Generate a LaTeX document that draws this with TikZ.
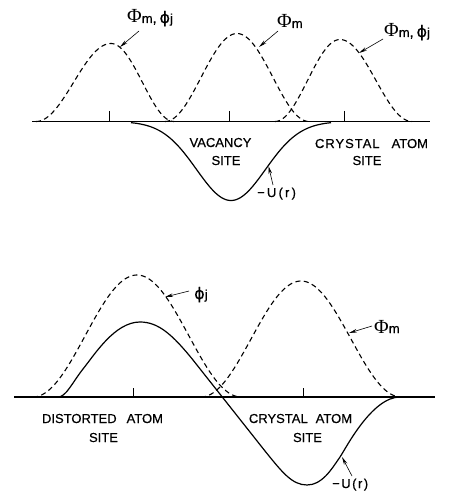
\documentclass[tikz,border=0pt]{standalone}
\usepackage{fontspec}
\setmainfont{Liberation Sans}
\newfontfamily\capfont[FakeBold=0.5]{Liberation Sans}
\newfontfamily\grserif{Liberation Serif}
\newfontfamily\grsans[FakeBold=0.4]{DejaVu Sans}
\usetikzlibrary{arrows.meta}
\newcommand\bigPhi{{\grserif\fontsize{20}{20}\selectfont Φ}}
\newcommand\subm{{\capfont\fontsize{13}{13}\selectfont m}}
\newcommand\smphi{{\grsans\fontsize{16}{16}\selectfont ϕ}}
\newcommand\subj{{\capfont\fontsize{13}{13}\selectfont j}}
\newcommand\gcomma{{\capfont\fontsize{14}{14}\selectfont ,}}
\newcommand\minusU[1]{{\capfont\fontsize{13}{13}\selectfont −\kern#1U\kern#1(\kern#1r\kern#1)}}
\newcommand\wide[1]{{\addfontfeature{LetterSpace=7.5}#1}}
\tikzset{
  axisline/.style={line width=1.3pt},
  tickline/.style={line width=0.7pt},
  wave/.style={line width=1.1pt, dash pattern=on 5pt off 3.5pt},
  pot/.style={line width=1.2pt},
  leader/.style={line width=0.6pt, -{Stealth[length=8pt,width=3.5pt]}},
  caplabel/.style={inner sep=0pt, anchor=base, font=\capfont\fontsize{13}{15}\selectfont},
  glabel/.style={inner sep=0pt, anchor=base west},
}
\begin{document}
\begin{tikzpicture}[x=1pt,y=-1pt]
\useasboundingbox (0,0) rectangle (448,500);
% ---------- top panel ----------
\draw[axisline] (32,121.5) -- (430,121.5);
\foreach \t in {109,229,344} \draw[tickline] (\t,111) -- (\t,121.5);
% dashed wave functions
\draw[wave] plot[domain=36:111,samples=60,smooth] (\x,{121.5-78*cos(90*(\x-111)/75)^2})
  -- plot[domain=111:174,samples=50,smooth] (\x,{121.5-78*cos(90*(\x-111)/63)^2});
\draw[wave] plot[domain=165:309,samples=90,smooth] (\x,{121.5-88*cos(90*(\x-237)/72)^2});
\draw[wave] plot[domain=275:340,samples=50,smooth] (\x,{121.5-82*cos(90*(\x-340)/65)^2})
  -- plot[domain=340:412,samples=50,smooth] (\x,{121.5-82*cos(90*(\x-340)/72)^2});
% potential well
\draw[pot] plot[domain=131:331,samples=100,smooth] (\x,{121.5+79*exp(-((\x-231)^2)/2380)});
% labels
\node[glabel] (g1) at (127,23) {\bigPhi\subm\gcomma\hspace{3pt}\smphi\subj};
\node[glabel] (g2) at (277,28) {\bigPhi\subm};
\node[glabel] (g3) at (384,37) {\bigPhi\subm\gcomma\hspace{3pt}\smphi\subj};
\coordinate (a1s) at (139,31); \coordinate (a1t) at (120,47);
\coordinate (a2s) at (278,31); \coordinate (a2t) at (259,47);
\coordinate (a3s) at (383,39); \coordinate (a3t) at (359,53);
\draw[leader] (a1s) -- (a1t);
\draw[leader] (a2s) -- (a2t);
\draw[leader] (a3s) -- (a3t);
\node[caplabel] (vac) at (220.5,147) {VACANCY};
\node[caplabel] (vacs) at (226,165) {SITE};
\node[caplabel] (cry) at (371.5,148) {\wide{CRYSTAL}\hspace{12pt}ATOM};
\node[caplabel] (crys) at (367,165) {SITE};
\node[glabel] (u1) at (257,197) {\minusU{2.2pt}};
\coordinate (u1s) at (273,185); \coordinate (u1t) at (268.5,166);
\draw[leader] (u1s) -- (u1t);
% ---------- bottom panel ----------
\draw[axisline] (14,397) -- (435,397);
\foreach \t in {133,303} \draw[tickline] (\t,388) -- (\t,397);
\draw[wave] plot[domain=33:241,samples=120,smooth] (\x,{397-122*cos(90*(\x-137)/104)^2});
\draw[wave] plot[domain=201:401,samples=120,smooth] (\x,{397-116*cos(90*(\x-301)/100)^2});
\draw[pot] (52,397) -- (58,397)
  .. controls (66,397) and (72,383) .. (83,369)
  .. controls (95,354) and (115,322) .. (140,322)
  .. controls (158,322) and (172,334) .. (193,360)
  -- (265,451)
  .. controls (282,472) and (292,485) .. (307,485)
  .. controls (322,485) and (331,470) .. (340,457)
  .. controls (346,448) and (372,397) .. (400,397) -- (406,397);
\node[glabel] (g4) at (194,299) {\smphi\subj};
\node[glabel] (g5) at (374,333) {\bigPhi\subm};
\coordinate (a4s) at (189,291); \coordinate (a4t) at (165,297);
\coordinate (a5s) at (372,326); \coordinate (a5t) at (349,333);
\draw[leader] (a4s) -- (a4t);
\draw[leader] (a5s) -- (a5t);
\node[caplabel] (dis) at (102.5,423) {DISTORTED\hspace{10pt}ATOM};
\node[caplabel] (diss) at (103.5,442) {SITE};
\node[caplabel] (cry2) at (300.5,423) {CRYSTAL\hspace{8pt}ATOM};
\node[caplabel] (cry2s) at (307.5,442) {SITE};
\node[glabel] (u2) at (332,488) {\minusU{1.5pt}};
\coordinate (u2s) at (352,476); \coordinate (u2t) at (342,457);
\draw[leader] (u2s) -- (u2t);
\end{tikzpicture}
\end{document}
